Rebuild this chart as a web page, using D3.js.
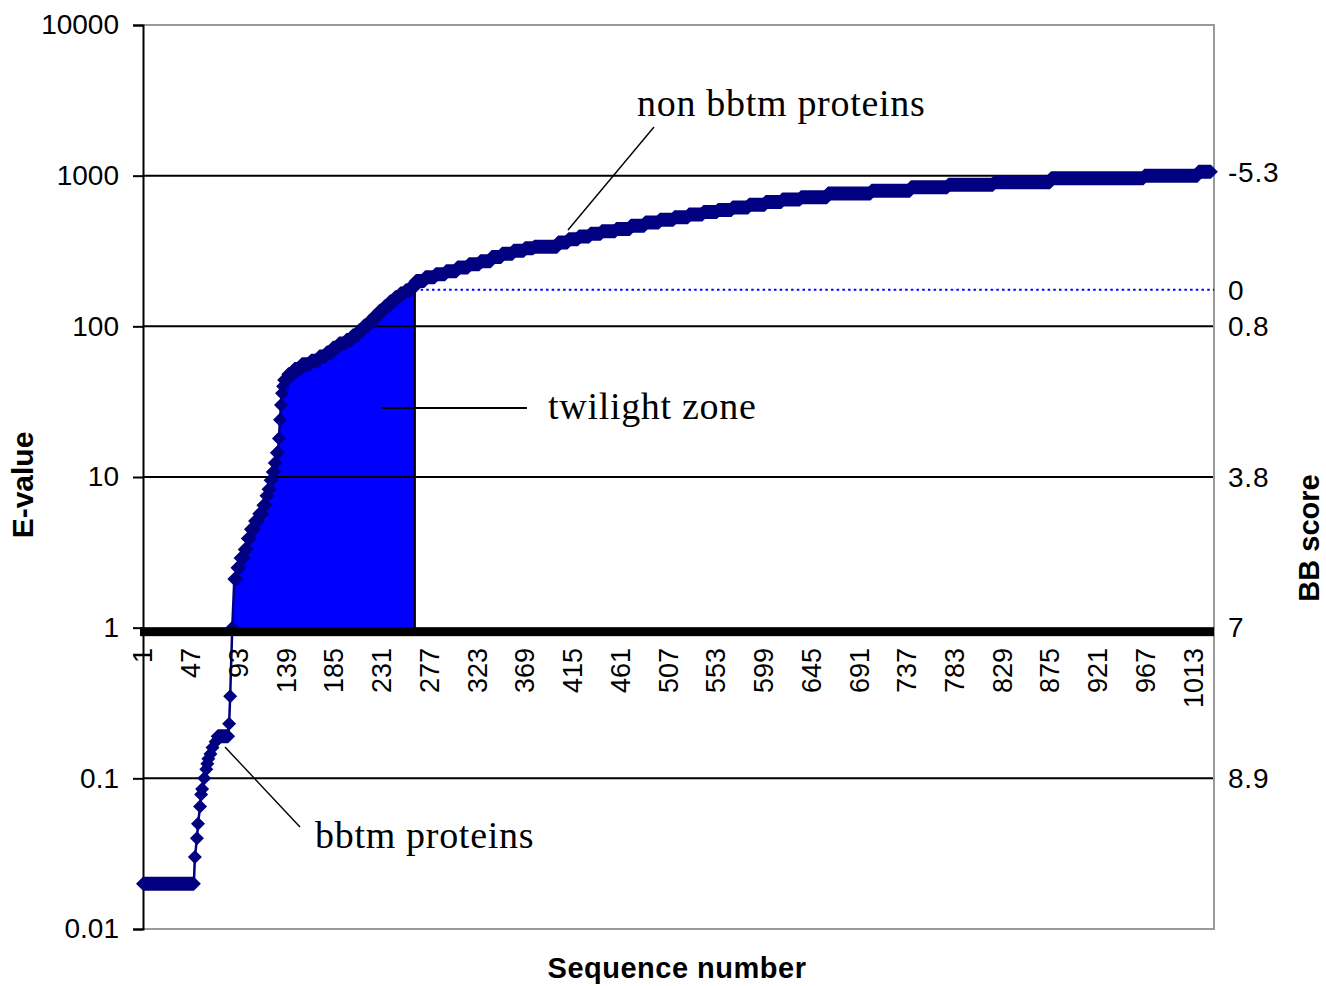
<!DOCTYPE html>
<html>
<head>
<meta charset="utf-8">
<script src="https://cdn.jsdelivr.net/npm/d3@7/dist/d3.min.js"></script>
<style>
  body { margin: 0; background: #fff; }
  svg { display: block; }
</style>
</head>
<body>
<svg id="chart" width="1326" height="986"></svg>
<script>
// Sorted E-values, stored as runs of consecutive sequence numbers sharing one value
const runFrom = [1, 51, 53, 54, 56, 57, 58, 60, 62, 63, 64, 66, 68, 71, 73, 84, 85, 87,
  89, 92, 95, 99, 102, 105, 109, 113, 117, 120, 122, 124, 126, 128, 130, 132, 133, 134, 135, 136,
  137, 141, 147, 154, 163, 171, 178, 184, 190, 197, 203, 209, 214, 219, 224, 229, 234, 239, 244, 249, 254, 259,
  264, 273, 283, 293, 304, 315, 326, 337, 347, 358, 369, 378, 401, 411, 421, 432, 443, 457, 471, 485,
  499, 513, 527, 541, 555, 569, 585, 601, 617, 635, 661, 703, 741, 777, 821, 876, 966, 1018];
const runTo = [50, 51, 53, 54, 56, 57, 58, 60, 62, 63, 64, 66, 68, 71, 83, 84, 85, 87,
  91, 94, 98, 101, 104, 108, 112, 116, 119, 121, 123, 125, 127, 129, 131, 132, 133, 134, 135, 136,
  140, 146, 153, 162, 170, 177, 183, 189, 196, 202, 208, 213, 218, 223, 228, 233, 238, 243, 248, 253, 258, 263,
  272, 282, 292, 303, 314, 325, 336, 346, 357, 368, 377, 400, 410, 420, 431, 442, 456, 470, 484, 498,
  512, 526, 540, 554, 568, 584, 600, 616, 634, 660, 702, 740, 776, 820, 875, 965, 1017, 1030];
const runEValue = [0.02, 0.03, 0.04, 0.05, 0.065, 0.078, 0.085, 0.10, 0.115, 0.125, 0.135, 0.145, 0.16, 0.175, 0.19, 0.23, 0.35, 1.0,
  2.1, 2.5, 2.9, 3.3, 3.9, 4.5, 5.1, 5.7, 6.5, 7.5, 8.3, 9.5, 10.8, 12.4, 14.5, 18, 24, 30, 36, 40,
  44, 48, 52, 56, 59, 63, 67, 72, 77, 81, 87, 94, 101, 108, 117, 127, 136, 146, 156, 165, 173, 183,
  200, 212, 222, 232, 246, 258, 270, 288, 303, 318, 330, 338, 360, 378, 395, 412, 428, 443, 465, 488,
  510, 530, 553, 574, 592, 615, 642, 668, 695, 720, 760, 795, 839, 871, 906, 960, 1000, 1062];

const xTickValues = [1, 47, 93, 139, 185, 231, 277, 323, 369, 415, 461, 507, 553, 599, 645,
  691, 737, 783, 829, 875, 921, 967, 1013];
const yTickValues = [10000, 1000, 100, 10, 1, 0.1, 0.01];
const gridEValues = [1000, 100, 10, 0.1];

// Secondary axis: BB score read at the matching E-value
const bbScoreLabels = ["-5.3", "0", "0.8", "3.8", "7", "8.9"];
const bbScoreEValues = [1062, 175, 100, 10, 1, 0.1];

// Twilight zone: between E = 1 and the BB score 0 threshold
const twilightFromSeq = 87;
const twilightToSeq = 263;
const thresholdEValue = 175;

const runs = runFrom.map((f, i) => ({ from: f, to: runTo[i], e: runEValue[i] }));

const svg = d3.select("#chart");
const W = 1326, H = 986;
const plot = { left: 143, right: 1214, top: 25, bottom: 929 };

const x = d3.scaleLinear().domain([1, 1033]).range([plot.left, plot.right]);
const y = d3.scaleLog().domain([0.01, 10000]).range([plot.bottom, plot.top]);

const NAVY = "#000080", BLUE = "#0000ff";
const sans = "'Liberation Sans', Arial, sans-serif";
const serif = "'Liberation Serif', 'Times New Roman', serif";

svg.append("rect").attr("width", W).attr("height", H).attr("fill", "#fff");

// Twilight-zone area under the curve
const areaPts = [];
runs.filter(d => d.from >= twilightFromSeq && d.to <= twilightToSeq).forEach(d => {
  areaPts.push([d.from, d.e]);
  if (d.to > d.from) areaPts.push([d.to, d.e]);
});
svg.append("path")
  .attr("d", d3.area().x(d => x(d[0])).y0(y(1)).y1(d => y(d[1]))(areaPts))
  .attr("fill", BLUE);

// Horizontal gridlines
svg.selectAll("line.grid").data(gridEValues).join("line")
  .attr("x1", plot.left).attr("x2", plot.right)
  .attr("y1", d => y(d)).attr("y2", d => y(d))
  .attr("stroke", "#000").attr("stroke-width", 2);

// Plot-area border (top, right, bottom)
svg.append("path")
  .attr("d", `M${plot.left},${plot.top}H${plot.right}V${plot.bottom}H${plot.left}`)
  .attr("fill", "none").attr("stroke", "#9a9a9a").attr("stroke-width", 2);

// Left value axis
const yAxis = d3.axisLeft(y).tickValues(yTickValues).tickSize(10).tickPadding(14)
  .tickFormat(d => String(d));
const gy = svg.append("g").attr("transform", `translate(${plot.left},0)`).call(yAxis);
gy.select(".domain").attr("stroke", "#000").attr("stroke-width", 2);
gy.selectAll(".tick line").attr("stroke", "#000").attr("stroke-width", 2);
gy.selectAll(".tick text").attr("font-family", sans).attr("font-size", 28).attr("fill", "#000");

// Twilight-zone right edge and BB score 0 threshold
svg.append("line")
  .attr("x1", x(twilightToSeq)).attr("x2", x(twilightToSeq))
  .attr("y1", y(1)).attr("y2", y(thresholdEValue))
  .attr("stroke", "#000").attr("stroke-width", 2);
svg.append("line")
  .attr("x1", x(twilightToSeq)).attr("x2", plot.right)
  .attr("y1", y(thresholdEValue)).attr("y2", y(thresholdEValue))
  .attr("stroke", BLUE).attr("stroke-width", 2).attr("stroke-dasharray", "2.5 3.2");

// Annotation leader lines
const leaders = [
  { x1: 654, y1: 127, x2: 568, y2: 230, w: 1.4 },
  { x1: 382, y1: 408, x2: 527, y2: 408, w: 2 },
  { x1: 225, y1: 747, x2: 300, y2: 827, w: 1.4 }
];
svg.selectAll("line.leader").data(leaders).join("line")
  .attr("x1", d => d.x1).attr("y1", d => d.y1).attr("x2", d => d.x2).attr("y2", d => d.y2)
  .attr("stroke", "#000").attr("stroke-width", d => d.w);

// Series line through every run
const linePts = [];
runs.forEach(d => {
  linePts.push([d.from, d.e]);
  if (d.to > d.from) linePts.push([d.to, d.e]);
});
svg.append("path")
  .attr("d", d3.line().x(d => x(d[0])).y(d => y(d[1]))(linePts))
  .attr("fill", "none").attr("stroke", NAVY).attr("stroke-width", 2.5);

// Diamond markers; a run of equal values becomes one stretched diamond
const rx = 7, ry = 7;
svg.selectAll("path.marker").data(runs).join("path")
  .attr("d", d => {
    const x0 = x(d.from), x1 = x(d.to), yy = y(d.e);
    return `M${x0 - rx},${yy}L${x0},${yy - ry}L${x1},${yy - ry}L${x1 + rx},${yy}L${x1},${yy + ry}L${x0},${yy + ry}Z`;
  })
  .attr("fill", NAVY);

// Category axis drawn through E = 1
svg.append("rect")
  .attr("x", plot.left - 3).attr("y", y(1) - 0.5)
  .attr("width", plot.right - plot.left + 3).attr("height", 9)
  .attr("fill", "#000");

// Sequence-number tick labels
svg.selectAll("text.xtick").data(xTickValues).join("text")
  .attr("transform", d => `translate(${x(d)},648) rotate(-90)`)
  .attr("text-anchor", "end").attr("dy", "0.35em")
  .attr("font-family", sans).attr("font-size", 27)
  .text(d => d);

// BB score labels on the right
svg.selectAll("text.bb").data(bbScoreLabels).join("text")
  .attr("x", 1228).attr("y", (d, i) => y(bbScoreEValues[i]))
  .attr("dy", "0.35em")
  .attr("font-family", sans).attr("font-size", 28).attr("letter-spacing", 0.8)
  .text(d => d);

// Axis titles
svg.append("text")
  .attr("transform", "translate(33,485) rotate(-90)")
  .attr("text-anchor", "middle")
  .attr("font-family", sans).attr("font-weight", "bold").attr("font-size", 30)
  .text("E-value");
svg.append("text")
  .attr("transform", "translate(1319,538) rotate(-90)")
  .attr("text-anchor", "middle")
  .attr("font-family", sans).attr("font-weight", "bold").attr("font-size", 29)
  .text("BB score");
svg.append("text")
  .attr("x", 677).attr("y", 978)
  .attr("text-anchor", "middle")
  .attr("font-family", sans).attr("font-weight", "bold").attr("font-size", 29)
  .attr("letter-spacing", 0.5)
  .text("Sequence number");

// Annotation labels
const notes = [
  { text: "non bbtm proteins", x: 637, y: 116 },
  { text: "twilight zone", x: 548, y: 419 },
  { text: "bbtm proteins", x: 315, y: 848 }
];
svg.selectAll("text.note").data(notes).join("text")
  .attr("x", d => d.x).attr("y", d => d.y)
  .attr("font-family", serif).attr("font-size", 38).attr("letter-spacing", 0.7)
  .text(d => d.text);
</script>
</body>
</html>
